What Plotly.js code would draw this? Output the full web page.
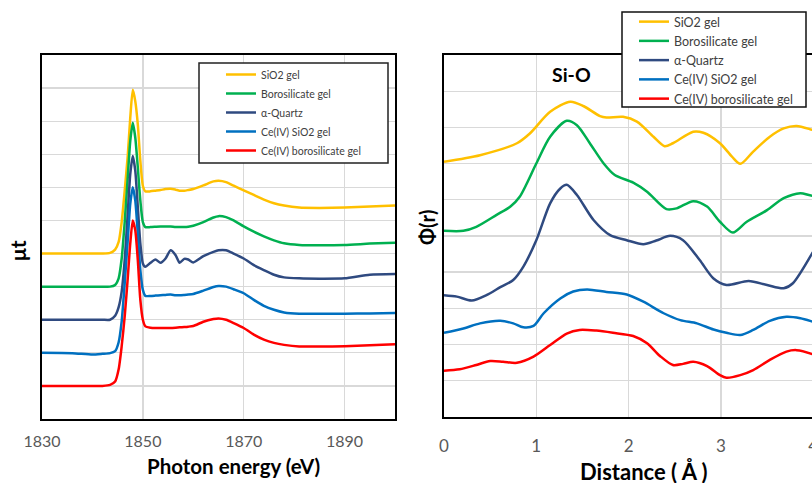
<!DOCTYPE html>
<html>
<head>
<meta charset="utf-8">
<script src="https://cdn.plot.ly/plotly-3.0.1.min.js"></script>
<style>
html,body{margin:0;padding:0;overflow:hidden;background:#fff;width:812px;height:483px;}
#chart{width:960px;height:483px;}
</style>
</head>
<body>
<div id="chart"></div>
<script>
// ---- Left panel: XANES (photon energy, eV) ----
const energy = [1830, 1836, 1840, 1842, 1843.5, 1844.5, 1845.2, 1845.8, 1846.4, 1847, 1847.5, 1848, 1848.5, 1849, 1849.5, 1850, 1850.5, 1851.5, 1852.5, 1853.5, 1854.5, 1855.5, 1856.5, 1857.3, 1858.2, 1859, 1860, 1862, 1864, 1865, 1866.5, 1868, 1870, 1872, 1874, 1876, 1878, 1881, 1885, 1890, 1895, 1900];
const sio2Gel = [5.0, 5.0, 5.0, 5.0, 5.02, 5.12, 5.35, 5.95, 6.9, 7.95, 9.1, 9.95, 9.6, 8.9, 7.8, 7.05, 6.88, 6.88, 6.9, 6.92, 6.95, 6.96, 6.93, 6.9, 6.9, 6.92, 6.95, 7.06, 7.18, 7.2, 7.16, 7.05, 6.91, 6.77, 6.63, 6.52, 6.45, 6.39, 6.38, 6.39, 6.42, 6.45];
const borosilicateGel = [4.0, 4.0, 4.0, 4.0, 4.0, 4.05, 4.25, 4.85, 5.95, 7.3, 8.4, 8.95, 8.5, 7.6, 6.6, 5.95, 5.8, 5.8, 5.81, 5.82, 5.82, 5.82, 5.8, 5.8, 5.8, 5.81, 5.84, 5.95, 6.09, 6.13, 6.1, 6.0, 5.82, 5.66, 5.52, 5.4, 5.31, 5.26, 5.25, 5.26, 5.3, 5.33];
const alphaQuartz = [3.0, 3.0, 3.0, 3.0, 3.0, 3.12, 3.38, 3.85, 4.8, 6.2, 7.4, 7.95, 7.5, 6.4, 5.3, 4.7, 4.6, 4.72, 4.82, 4.72, 4.85, 5.1, 4.95, 4.72, 4.84, 4.82, 4.73, 4.92, 5.05, 5.1, 5.1, 5.0, 4.85, 4.65, 4.5, 4.36, 4.28, 4.25, 4.24, 4.25, 4.36, 4.38];
const ceSio2Gel = [2.0, 1.99, 1.95, 1.97, 1.99, 2.05, 2.32, 2.95, 4.1, 5.4, 6.5, 7.0, 6.6, 5.6, 4.5, 3.9, 3.72, 3.72, 3.73, 3.74, 3.75, 3.76, 3.74, 3.74, 3.75, 3.76, 3.78, 3.88, 3.99, 4.02, 4.0, 3.92, 3.8, 3.6, 3.42, 3.3, 3.22, 3.18, 3.18, 3.18, 3.19, 3.2];
const ceBoroGel = [1.0, 1.0, 1.0, 1.0, 1.03, 1.13, 1.5, 2.2, 3.1, 4.25, 5.3, 6.0, 5.7, 4.8, 3.6, 3.0, 2.8, 2.76, 2.75, 2.75, 2.75, 2.75, 2.76, 2.77, 2.78, 2.79, 2.81, 2.94, 3.02, 3.04, 3.0, 2.9, 2.75, 2.55, 2.4, 2.3, 2.24, 2.19, 2.19, 2.2, 2.23, 2.26];
const energyTicks = [1830, 1850, 1870, 1890];

// ---- Right panel: Phi(r) vs distance (Å) ----
const rSio2 = [0, 0.39, 0.79, 0.93, 1.15, 1.37, 1.51, 1.69, 1.76, 1.94, 2.09, 2.27, 2.39, 2.48, 2.70, 2.81, 2.99, 3.12, 3.21, 3.35, 3.53, 3.68, 3.82, 3.99, 4.15];
const phiSio2 = [7.05, 7.23, 7.56, 7.83, 8.43, 8.71, 8.59, 8.31, 8.27, 8.29, 8.16, 7.74, 7.48, 7.56, 7.88, 7.85, 7.56, 7.19, 6.99, 7.33, 7.74, 7.97, 8.04, 7.93, 7.8];
const rBoro = [0, 0.21, 0.35, 0.57, 0.72, 0.82, 1.00, 1.15, 1.33, 1.44, 1.58, 1.73, 1.85, 2.05, 2.20, 2.41, 2.52, 2.70, 2.85, 2.99, 3.13, 3.28, 3.50, 3.68, 3.86, 3.99, 4.15];
const phiBoro = [5.14, 5.14, 5.25, 5.58, 5.81, 6.08, 7.0, 7.74, 8.18, 8.06, 7.56, 7.0, 6.68, 6.47, 6.22, 5.74, 5.76, 5.96, 5.81, 5.39, 5.09, 5.39, 5.71, 6.04, 6.18, 6.11, 6.15];
const rQuartz = [0, 0.14, 0.30, 0.46, 0.61, 0.75, 0.86, 1.00, 1.15, 1.26, 1.33, 1.44, 1.62, 1.80, 1.98, 2.16, 2.30, 2.45, 2.59, 2.77, 2.92, 3.06, 3.30, 3.50, 3.68, 3.78, 3.99, 4.1];
const phiQuartz = [3.36, 3.32, 3.21, 3.36, 3.58, 3.78, 4.15, 4.88, 5.90, 6.31, 6.41, 6.13, 5.44, 5.02, 4.88, 4.77, 4.87, 5.0, 4.88, 4.33, 3.82, 3.64, 3.75, 3.64, 3.55, 3.69, 4.52, 5.0];
const rCeSio2 = [0, 0.21, 0.39, 0.61, 0.75, 0.86, 0.97, 1.08, 1.26, 1.40, 1.55, 1.76, 1.98, 2.16, 2.38, 2.56, 2.74, 2.92, 3.06, 3.21, 3.35, 3.53, 3.71, 3.86, 3.99, 4.15];
const phiCeSio2 = [2.32, 2.44, 2.58, 2.65, 2.58, 2.47, 2.51, 2.86, 3.27, 3.46, 3.52, 3.45, 3.38, 3.18, 2.86, 2.67, 2.58, 2.41, 2.32, 2.26, 2.40, 2.65, 2.76, 2.72, 2.63, 2.5];
const rCeBoro = [0, 0.17, 0.35, 0.50, 0.64, 0.79, 0.97, 1.15, 1.33, 1.47, 1.65, 1.83, 2.05, 2.20, 2.34, 2.48, 2.59, 2.70, 2.85, 2.99, 3.06, 3.21, 3.35, 3.53, 3.71, 3.82, 3.99, 4.15];
const phiCeBoro = [1.27, 1.31, 1.43, 1.54, 1.52, 1.49, 1.66, 1.98, 2.30, 2.40, 2.38, 2.32, 2.23, 2.03, 1.68, 1.43, 1.46, 1.52, 1.40, 1.15, 1.08, 1.15, 1.29, 1.57, 1.80, 1.84, 1.73, 1.55];
const distanceTicks = [0, 1, 2, 3, 4, 5];

const seriesNames = ['SiO2 gel', 'Borosilicate gel', 'α-Quartz', 'Ce(IV) SiO2 gel', 'Ce(IV) borosilicate gel'];
const seriesColors = ['#FFC000', '#00B050', '#2F4A80', '#0070C0', '#FF0000'];

const W = 960, H = 483;
const px = v => v / W;
const py = v => 1 - v / H;
const FONT = 'Lato, "Open Sans", sans-serif';

const leftY = [sio2Gel, borosilicateGel, alphaQuartz, ceSio2Gel, ceBoroGel];
const rightX = [rSio2, rBoro, rQuartz, rCeSio2, rCeBoro];
const rightY = [phiSio2, phiBoro, phiQuartz, phiCeSio2, phiCeBoro];

const traces = [];
leftY.forEach((ys, i) => traces.push({
  x: energy, y: ys, type: 'scatter', mode: 'lines', name: seriesNames[i],
  line: {color: seriesColors[i], width: 2.5, shape: 'spline', smoothing: 0.6},
  xaxis: 'x', yaxis: 'y', legend: 'legend', hoverinfo: 'skip'
}));
rightY.forEach((ys, i) => traces.push({
  x: rightX[i], y: ys, type: 'scatter', mode: 'lines', name: seriesNames[i],
  line: {color: seriesColors[i], width: 2.5, shape: 'spline', smoothing: 0.8},
  xaxis: 'x2', yaxis: 'y2', legend: 'legend2', hoverinfo: 'skip'
}));

const axisCommon = {
  showline: true, mirror: true, linecolor: '#000', linewidth: 2,
  showgrid: true, gridcolor: '#D9D9D9', gridwidth: 1.3,
  zeroline: false, ticks: '', fixedrange: true
};

function label(text, x, y, size, angle) {
  return {text: '<b>' + text + '</b>', xref: 'paper', yref: 'paper', x: px(x), y: py(y),
    xanchor: 'center', yanchor: 'middle', textangle: angle || 0, showarrow: false,
    font: {family: FONT, size: size, color: '#000'}};
}

const layout = {
  width: W, height: H,
  margin: {l: 0, r: 0, t: 0, b: 0},
  paper_bgcolor: '#fff', plot_bgcolor: '#fff',
  showlegend: true,
  xaxis: Object.assign({}, axisCommon, {
    domain: [px(42), px(395)], range: [1830, 1900],
    tickvals: energyTicks, ticktext: energyTicks.map(String),
    tickfont: {family: FONT, size: 16, color: '#595959'}, ticklabelstandoff: 7, anchor: 'y'
  }),
  yaxis: Object.assign({}, axisCommon, {
    domain: [py(419), py(55)], range: [0, 11], dtick: 1, tick0: 0,
    showticklabels: false, anchor: 'x'
  }),
  xaxis2: Object.assign({}, axisCommon, {
    domain: [px(444), px(905.5)], range: [0, 5],
    tickvals: distanceTicks, ticktext: distanceTicks.map(String),
    tickfont: {family: FONT, size: 17, color: '#595959'}, ticklabelstandoff: 13, anchor: 'y2'
  }),
  yaxis2: Object.assign({}, axisCommon, {
    domain: [py(416.7), py(55)], range: [0, 10], dtick: 1, tick0: 0,
    showticklabels: false, anchor: 'x2'
  }),
  legend: {
    x: px(221), y: py(60), xanchor: 'left', yanchor: 'top',
    bgcolor: 'rgba(0,0,0,0)', borderwidth: 0,
    font: {family: FONT, size: 10.5, color: '#404040'}, tracegroupgap: 0
  },
  legend2: {
    x: px(634), y: py(7), xanchor: 'left', yanchor: 'top',
    bgcolor: 'rgba(0,0,0,0)', borderwidth: 0,
    font: {family: FONT, size: 12.5, color: '#404040'}, tracegroupgap: 0
  },
  shapes: [
    {type: 'rect', xref: 'paper', yref: 'paper', x0: px(199), x1: px(388), y0: py(163), y1: py(63),
     line: {color: '#222', width: 1.5}, fillcolor: '#fff', layer: 'above'},
    {type: 'rect', xref: 'paper', yref: 'paper', x0: px(622), x1: px(806), y0: py(107), y1: py(12),
     line: {color: '#111', width: 1.5}, fillcolor: '#fff', layer: 'above'}
  ],
  annotations: [
    label('μt', 18, 251, 21, -90),
    label('Photon energy (eV)', 233, 466, 20.5),
    label('Φ(r)', 427, 228, 20, -90),
    label('Distance ( Å )', 644, 471, 22),
    label('Si-O', 571, 74, 19.5)
  ]
};

Plotly.newPlot('chart', traces, layout, {staticPlot: true, displayModeBar: false});
</script>
</body>
</html>
